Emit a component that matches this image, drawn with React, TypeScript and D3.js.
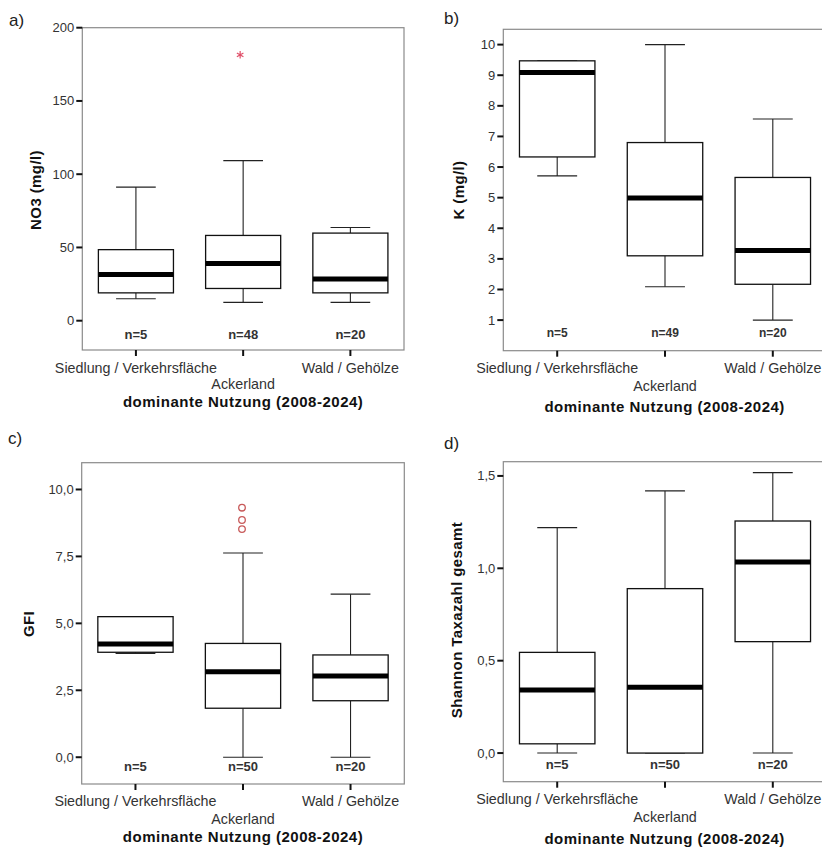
import React from "react";
import * as d3 from "d3";

const categories = ["Siedlung / Verkehrsfläche", "Ackerland", "Wald / Gehölze"];
const xTitle = "dominante Nutzung (2008-2024)";

// a) NO3
const no3Low = [15, 12.5, 12.5];
const no3Q1 = [19, 22, 19];
const no3Median = [31.5, 39, 28.5];
const no3Q3 = [48.5, 58.2, 59.8];
const no3High = [91.2, 109.3, 63.6];
const no3N = [5, 48, 20];
const no3OutlierCat = [1];
const no3OutlierVal = [181.5];
const no3Ticks = [0, 50, 100, 150, 200];

// b) K
const kLow = [5.71, 2.09, 1.0];
const kQ1 = [6.33, 3.1, 2.17];
const kMedian = [9.09, 4.99, 3.27];
const kQ3 = [9.47, 6.8, 5.66];
const kHigh = [9.47, 10.0, 7.57];
const kN = [5, 49, 20];
const kTicks = [1, 2, 3, 4, 5, 6, 7, 8, 9, 10];

// c) GFI
const gfiLow = [3.88, 0, 0];
const gfiQ1 = [3.92, 1.83, 2.11];
const gfiMedian = [4.23, 3.19, 3.03];
const gfiQ3 = [5.25, 4.25, 3.82];
const gfiHigh = [5.25, 7.63, 6.09];
const gfiN = [5, 50, 20];
const gfiOutlierCat = [1, 1, 1];
const gfiOutlierVal = [9.32, 8.86, 8.52];
const gfiTicks = [0, 2.5, 5, 7.5, 10];

// d) Shannon
const shLow = [0, 0, 0];
const shQ1 = [0.05, 0, 0.603];
const shMedian = [0.341, 0.356, 1.034];
const shQ3 = [0.545, 0.89, 1.256];
const shHigh = [1.22, 1.419, 1.518];
const shN = [5, 50, 20];
const shTicks = [0, 0.5, 1, 1.5];

const FONT = "'Liberation Sans', Arial, sans-serif";

type PanelProps = {
  label: string;
  labelX: number;
  labelY: number;
  x0: number;
  x1: number;
  y0: number;
  y1: number;
  domain: [number, number];
  ticks: number[];
  fmt: (v: number) => string;
  low: number[];
  q1: number[];
  med: number[];
  q3: number[];
  high: number[];
  n: number[];
  nY: number;
  nSize: number;
  outCat?: number[];
  outVal?: number[];
  outType?: "star" | "circle";
  yTitle: string;
  yTitleX: number;
  yTitleY: number;
  catY1: number;
  catY2: number;
  titleY: number;
};

function Panel(p: PanelProps) {
  const y = d3.scaleLinear().domain(p.domain).range([p.y1, p.y0]);
  const x = d3.scaleBand().domain(categories).range([p.x0, p.x1]).padding(0);
  const bw = x.bandwidth();
  const boxW = bw * 0.7;
  const capW = bw * 0.37;
  const cx = (i: number) => (x(categories[i]) as number) + bw / 2;
  const star = d3.symbol().type(d3.symbolAsterisk).size(40)();
  return (
    <g>
      <text x={p.labelX} y={p.labelY} fontSize={17} fontFamily={FONT} fill="#222" dominantBaseline="central">
        {p.label}
      </text>
      <rect x={p.x0} y={p.y0} width={p.x1 - p.x0} height={p.y1 - p.y0} fill="none" stroke="#8a8a8a" strokeWidth={1.2} />
      {p.ticks.map((t) => (
        <g key={t}>
          <line x1={p.x0 - 6} x2={p.x0} y1={y(t)} y2={y(t)} stroke="#111" strokeWidth={2} />
          <text x={p.x0 - 8} y={y(t)} textAnchor="end" dominantBaseline="central" fontSize={13} fontFamily={FONT} fill="#333">
            {p.fmt(t)}
          </text>
        </g>
      ))}
      {categories.map((c, i) => (
        <g key={c}>
          <line x1={cx(i)} x2={cx(i)} y1={p.y1} y2={p.y1 + 6} stroke="#111" strokeWidth={2} />
          <text x={cx(i)} y={i === 1 ? p.catY2 : p.catY1} textAnchor="middle" dominantBaseline="central" fontSize={14.3} fontFamily={FONT} fill="#333">
            {c}
          </text>
          <line x1={cx(i)} x2={cx(i)} y1={y(p.high[i])} y2={y(p.q3[i])} stroke="#222" strokeWidth={1.1} />
          <line x1={cx(i)} x2={cx(i)} y1={y(p.q1[i])} y2={y(p.low[i])} stroke="#222" strokeWidth={1.1} />
          <line x1={cx(i) - capW / 2} x2={cx(i) + capW / 2} y1={y(p.high[i])} y2={y(p.high[i])} stroke="#222" strokeWidth={1.1} />
          <line x1={cx(i) - capW / 2} x2={cx(i) + capW / 2} y1={y(p.low[i])} y2={y(p.low[i])} stroke="#222" strokeWidth={1.1} />
          <rect x={cx(i) - boxW / 2} y={y(p.q3[i])} width={boxW} height={y(p.q1[i]) - y(p.q3[i])} fill="#fff" stroke="#111" strokeWidth={1.3} />
          <line x1={cx(i) - boxW / 2} x2={cx(i) + boxW / 2} y1={y(p.med[i])} y2={y(p.med[i])} stroke="#000" strokeWidth={5} />
          <text x={cx(i)} y={p.nY} textAnchor="middle" dominantBaseline="central" fontSize={p.nSize} fontWeight="bold" fontFamily={FONT} fill="#333">
            {"n=" + p.n[i]}
          </text>
        </g>
      ))}
      {(p.outCat || []).map((ci, k) =>
        p.outType === "star" ? (
          <path key={k} d={star as string} transform={`translate(${cx(ci) - 3},${y(p.outVal![k])})`} fill="none" stroke="#e0506a" strokeWidth={1.2} />
        ) : (
          <circle key={k} cx={cx(ci) - 1} cy={y(p.outVal![k])} r={3.3} fill="none" stroke="#c85a5a" strokeWidth={1.3} />
        )
      )}
      <text
        transform={`translate(${p.yTitleX},${p.yTitleY}) rotate(-90)`}
        textAnchor="middle"
        dominantBaseline="central"
        fontSize={15}
        fontWeight="bold"
        fontFamily={FONT}
        fill="#111"
        letterSpacing={0.4}
      >
        {p.yTitle}
      </text>
      <text x={(p.x0 + Math.min(p.x1, 822)) / 2 + (p.x1 > 822 ? 2 : 0)} y={p.titleY} textAnchor="middle" dominantBaseline="central" fontSize={15} fontWeight="bold" fontFamily={FONT} fill="#111" letterSpacing={0.5}>
        {xTitle}
      </text>
    </g>
  );
}

const fmtInt = (v: number) => String(v);
const fmtComma = (d: number) => d.toFixed(1).replace(".", ",");

export default function App() {
  return (
    <svg width={822} height={851} style={{ position: "absolute", left: 0, top: 0, background: "#fff" }}>
      <rect width={822} height={851} fill="#fff" />
      <Panel
        label="a)" labelX={9} labelY={20}
        x0={82.3} x1={404} y0={27.7} y1={350} domain={[-20, 200]} ticks={no3Ticks} fmt={fmtInt}
        low={no3Low} q1={no3Q1} med={no3Median} q3={no3Q3} high={no3High} n={no3N} nY={334.3} nSize={13}
        outCat={no3OutlierCat} outVal={no3OutlierVal} outType="star"
        yTitle="NO3 (mg/l)" yTitleX={35} yTitleY={190}
        catY1={367.5} catY2={384} catY2Dummy={0} titleY={401}
      />
      <Panel
        label="b)" labelX={444} labelY={18}
        x0={503.3} x1={826.7} y0={29.3} y1={350.7} domain={[0, 10.5]} ticks={kTicks} fmt={fmtInt}
        low={kLow} q1={kQ1} med={kMedian} q3={kQ3} high={kHigh} n={kN} nY={333.3} nSize={12}
        yTitle="K (mg/l)" yTitleX={458.3} yTitleY={190}
        catY1={367.7} catY2={385.7} titleY={406.7}
      />
      <Panel
        label="c)" labelX={8} labelY={438}
        x0={81.7} x1={404.3} y0={462.7} y1={784} domain={[-1, 11]} ticks={gfiTicks} fmt={fmtComma}
        low={gfiLow} q1={gfiQ1} med={gfiMedian} q3={gfiQ3} high={gfiHigh} n={gfiN} nY={766.7} nSize={13}
        outCat={gfiOutlierCat} outVal={gfiOutlierVal} outType="circle"
        yTitle="GFI" yTitleX={28.3} yTitleY={624}
        catY1={801} catY2={819} titleY={836.7}
      />
      <Panel
        label="d)" labelX={444} labelY={443}
        x0={503.3} x1={826.7} y0={461.7} y1={781.7} domain={[-0.155, 1.577]} ticks={shTicks} fmt={fmtComma}
        low={shLow} q1={shQ1} med={shMedian} q3={shQ3} high={shHigh} n={shN} nY={764.3} nSize={13}
        yTitle="Shannon Taxazahl gesamt" yTitleX={456.7} yTitleY={620}
        catY1={799.3} catY2={816.7} titleY={838.3}
      />
    </svg>
  );
}
